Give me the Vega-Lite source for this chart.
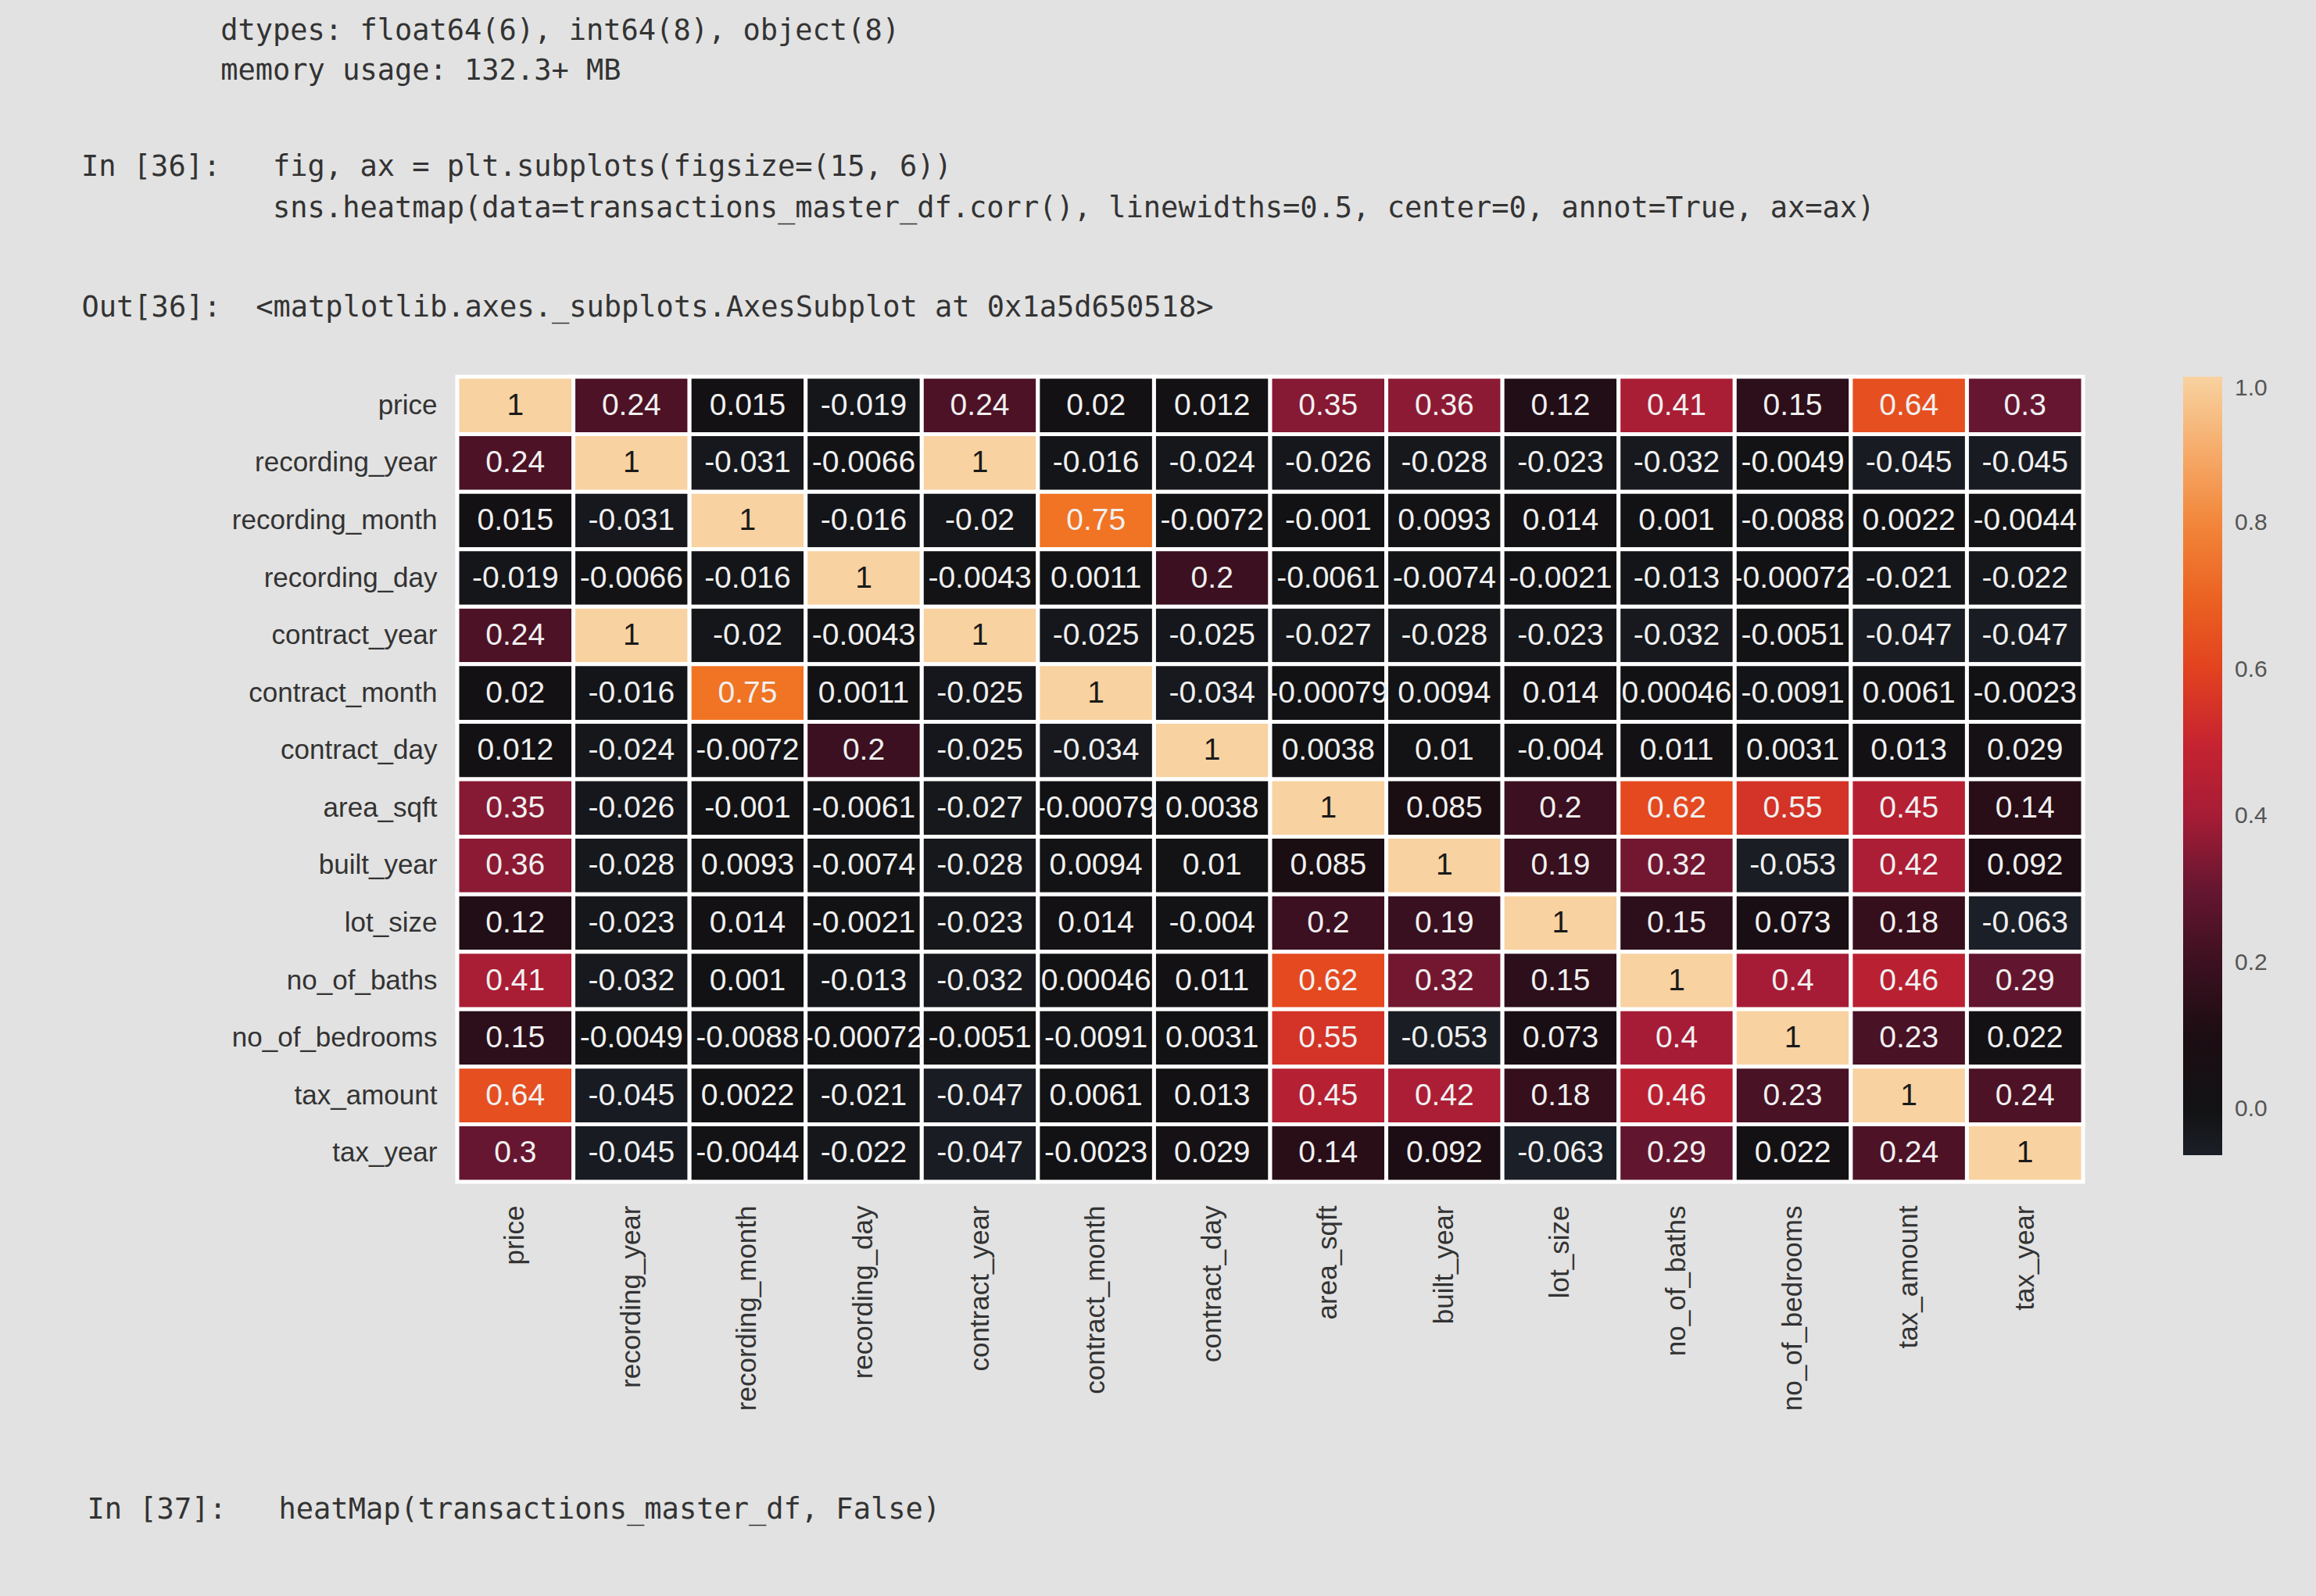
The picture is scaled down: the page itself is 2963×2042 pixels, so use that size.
{
  "$schema": "https://vega.github.io/schema/vega-lite/v6.json",
  "width": 2080,
  "height": 1030,
  "autosize": {"type": "none"},
  "padding": {"left": 585, "top": 482, "right": 298, "bottom": 530},
  "background": "#e2e2e2",
  "title": {
    "text": ["\u200b\u00a0\u00a0\u00a0\u00a0\u00a0\u00a0\u00a0\u00a0dtypes: float64(6), int64(8), object(8)", "\u200b\u00a0\u00a0\u00a0\u00a0\u00a0\u00a0\u00a0\u00a0memory usage: 132.3+ MB"],
    "subtitle": ["In [36]:\u00a0\u00a0\u00a0fig, ax = plt.subplots(figsize=(15, 6))", "\u200b\u00a0\u00a0\u00a0\u00a0\u00a0\u00a0\u00a0\u00a0\u00a0\u00a0\u00a0sns.heatmap(data=transactions_master_df.corr(), linewidths=0.5, center=0, annot=True, ax=ax)"],
    "anchor": "start",
    "frame": "group",
    "dx": -481,
    "offset": 88,
    "font": "DejaVu Sans Mono",
    "fontSize": 37,
    "fontWeight": "normal",
    "color": "#333333",
    "lineHeight": 51,
    "subtitleFont": "DejaVu Sans Mono",
    "subtitleFontSize": 37,
    "subtitleColor": "#333333",
    "subtitleLineHeight": 53,
    "subtitlePadding": 86
  },
  "data": {
    "values": [
      {"r": "price", "c": "price", "v": 1},
      {"r": "price", "c": "recording_year", "v": 0.24},
      {"r": "price", "c": "recording_month", "v": 0.015},
      {"r": "price", "c": "recording_day", "v": -0.019},
      {"r": "price", "c": "contract_year", "v": 0.24},
      {"r": "price", "c": "contract_month", "v": 0.02},
      {"r": "price", "c": "contract_day", "v": 0.012},
      {"r": "price", "c": "area_sqft", "v": 0.35},
      {"r": "price", "c": "built_year", "v": 0.36},
      {"r": "price", "c": "lot_size", "v": 0.12},
      {"r": "price", "c": "no_of_baths", "v": 0.41},
      {"r": "price", "c": "no_of_bedrooms", "v": 0.15},
      {"r": "price", "c": "tax_amount", "v": 0.64},
      {"r": "price", "c": "tax_year", "v": 0.3},

      {"r": "recording_year", "c": "price", "v": 0.24},
      {"r": "recording_year", "c": "recording_year", "v": 1},
      {"r": "recording_year", "c": "recording_month", "v": -0.031},
      {"r": "recording_year", "c": "recording_day", "v": -0.0066},
      {"r": "recording_year", "c": "contract_year", "v": 1},
      {"r": "recording_year", "c": "contract_month", "v": -0.016},
      {"r": "recording_year", "c": "contract_day", "v": -0.024},
      {"r": "recording_year", "c": "area_sqft", "v": -0.026},
      {"r": "recording_year", "c": "built_year", "v": -0.028},
      {"r": "recording_year", "c": "lot_size", "v": -0.023},
      {"r": "recording_year", "c": "no_of_baths", "v": -0.032},
      {"r": "recording_year", "c": "no_of_bedrooms", "v": -0.0049},
      {"r": "recording_year", "c": "tax_amount", "v": -0.045},
      {"r": "recording_year", "c": "tax_year", "v": -0.045},

      {"r": "recording_month", "c": "price", "v": 0.015},
      {"r": "recording_month", "c": "recording_year", "v": -0.031},
      {"r": "recording_month", "c": "recording_month", "v": 1},
      {"r": "recording_month", "c": "recording_day", "v": -0.016},
      {"r": "recording_month", "c": "contract_year", "v": -0.02},
      {"r": "recording_month", "c": "contract_month", "v": 0.75},
      {"r": "recording_month", "c": "contract_day", "v": -0.0072},
      {"r": "recording_month", "c": "area_sqft", "v": -0.001},
      {"r": "recording_month", "c": "built_year", "v": 0.0093},
      {"r": "recording_month", "c": "lot_size", "v": 0.014},
      {"r": "recording_month", "c": "no_of_baths", "v": 0.001},
      {"r": "recording_month", "c": "no_of_bedrooms", "v": -0.0088},
      {"r": "recording_month", "c": "tax_amount", "v": 0.0022},
      {"r": "recording_month", "c": "tax_year", "v": -0.0044},

      {"r": "recording_day", "c": "price", "v": -0.019},
      {"r": "recording_day", "c": "recording_year", "v": -0.0066},
      {"r": "recording_day", "c": "recording_month", "v": -0.016},
      {"r": "recording_day", "c": "recording_day", "v": 1},
      {"r": "recording_day", "c": "contract_year", "v": -0.0043},
      {"r": "recording_day", "c": "contract_month", "v": 0.0011},
      {"r": "recording_day", "c": "contract_day", "v": 0.2},
      {"r": "recording_day", "c": "area_sqft", "v": -0.0061},
      {"r": "recording_day", "c": "built_year", "v": -0.0074},
      {"r": "recording_day", "c": "lot_size", "v": -0.0021},
      {"r": "recording_day", "c": "no_of_baths", "v": -0.013},
      {"r": "recording_day", "c": "no_of_bedrooms", "v": -0.00072},
      {"r": "recording_day", "c": "tax_amount", "v": -0.021},
      {"r": "recording_day", "c": "tax_year", "v": -0.022},

      {"r": "contract_year", "c": "price", "v": 0.24},
      {"r": "contract_year", "c": "recording_year", "v": 1},
      {"r": "contract_year", "c": "recording_month", "v": -0.02},
      {"r": "contract_year", "c": "recording_day", "v": -0.0043},
      {"r": "contract_year", "c": "contract_year", "v": 1},
      {"r": "contract_year", "c": "contract_month", "v": -0.025},
      {"r": "contract_year", "c": "contract_day", "v": -0.025},
      {"r": "contract_year", "c": "area_sqft", "v": -0.027},
      {"r": "contract_year", "c": "built_year", "v": -0.028},
      {"r": "contract_year", "c": "lot_size", "v": -0.023},
      {"r": "contract_year", "c": "no_of_baths", "v": -0.032},
      {"r": "contract_year", "c": "no_of_bedrooms", "v": -0.0051},
      {"r": "contract_year", "c": "tax_amount", "v": -0.047},
      {"r": "contract_year", "c": "tax_year", "v": -0.047},

      {"r": "contract_month", "c": "price", "v": 0.02},
      {"r": "contract_month", "c": "recording_year", "v": -0.016},
      {"r": "contract_month", "c": "recording_month", "v": 0.75},
      {"r": "contract_month", "c": "recording_day", "v": 0.0011},
      {"r": "contract_month", "c": "contract_year", "v": -0.025},
      {"r": "contract_month", "c": "contract_month", "v": 1},
      {"r": "contract_month", "c": "contract_day", "v": -0.034},
      {"r": "contract_month", "c": "area_sqft", "v": -0.00079},
      {"r": "contract_month", "c": "built_year", "v": 0.0094},
      {"r": "contract_month", "c": "lot_size", "v": 0.014},
      {"r": "contract_month", "c": "no_of_baths", "v": 0.00046},
      {"r": "contract_month", "c": "no_of_bedrooms", "v": -0.0091},
      {"r": "contract_month", "c": "tax_amount", "v": 0.0061},
      {"r": "contract_month", "c": "tax_year", "v": -0.0023},

      {"r": "contract_day", "c": "price", "v": 0.012},
      {"r": "contract_day", "c": "recording_year", "v": -0.024},
      {"r": "contract_day", "c": "recording_month", "v": -0.0072},
      {"r": "contract_day", "c": "recording_day", "v": 0.2},
      {"r": "contract_day", "c": "contract_year", "v": -0.025},
      {"r": "contract_day", "c": "contract_month", "v": -0.034},
      {"r": "contract_day", "c": "contract_day", "v": 1},
      {"r": "contract_day", "c": "area_sqft", "v": 0.0038},
      {"r": "contract_day", "c": "built_year", "v": 0.01},
      {"r": "contract_day", "c": "lot_size", "v": -0.004},
      {"r": "contract_day", "c": "no_of_baths", "v": 0.011},
      {"r": "contract_day", "c": "no_of_bedrooms", "v": 0.0031},
      {"r": "contract_day", "c": "tax_amount", "v": 0.013},
      {"r": "contract_day", "c": "tax_year", "v": 0.029},

      {"r": "area_sqft", "c": "price", "v": 0.35},
      {"r": "area_sqft", "c": "recording_year", "v": -0.026},
      {"r": "area_sqft", "c": "recording_month", "v": -0.001},
      {"r": "area_sqft", "c": "recording_day", "v": -0.0061},
      {"r": "area_sqft", "c": "contract_year", "v": -0.027},
      {"r": "area_sqft", "c": "contract_month", "v": -0.00079},
      {"r": "area_sqft", "c": "contract_day", "v": 0.0038},
      {"r": "area_sqft", "c": "area_sqft", "v": 1},
      {"r": "area_sqft", "c": "built_year", "v": 0.085},
      {"r": "area_sqft", "c": "lot_size", "v": 0.2},
      {"r": "area_sqft", "c": "no_of_baths", "v": 0.62},
      {"r": "area_sqft", "c": "no_of_bedrooms", "v": 0.55},
      {"r": "area_sqft", "c": "tax_amount", "v": 0.45},
      {"r": "area_sqft", "c": "tax_year", "v": 0.14},

      {"r": "built_year", "c": "price", "v": 0.36},
      {"r": "built_year", "c": "recording_year", "v": -0.028},
      {"r": "built_year", "c": "recording_month", "v": 0.0093},
      {"r": "built_year", "c": "recording_day", "v": -0.0074},
      {"r": "built_year", "c": "contract_year", "v": -0.028},
      {"r": "built_year", "c": "contract_month", "v": 0.0094},
      {"r": "built_year", "c": "contract_day", "v": 0.01},
      {"r": "built_year", "c": "area_sqft", "v": 0.085},
      {"r": "built_year", "c": "built_year", "v": 1},
      {"r": "built_year", "c": "lot_size", "v": 0.19},
      {"r": "built_year", "c": "no_of_baths", "v": 0.32},
      {"r": "built_year", "c": "no_of_bedrooms", "v": -0.053},
      {"r": "built_year", "c": "tax_amount", "v": 0.42},
      {"r": "built_year", "c": "tax_year", "v": 0.092},

      {"r": "lot_size", "c": "price", "v": 0.12},
      {"r": "lot_size", "c": "recording_year", "v": -0.023},
      {"r": "lot_size", "c": "recording_month", "v": 0.014},
      {"r": "lot_size", "c": "recording_day", "v": -0.0021},
      {"r": "lot_size", "c": "contract_year", "v": -0.023},
      {"r": "lot_size", "c": "contract_month", "v": 0.014},
      {"r": "lot_size", "c": "contract_day", "v": -0.004},
      {"r": "lot_size", "c": "area_sqft", "v": 0.2},
      {"r": "lot_size", "c": "built_year", "v": 0.19},
      {"r": "lot_size", "c": "lot_size", "v": 1},
      {"r": "lot_size", "c": "no_of_baths", "v": 0.15},
      {"r": "lot_size", "c": "no_of_bedrooms", "v": 0.073},
      {"r": "lot_size", "c": "tax_amount", "v": 0.18},
      {"r": "lot_size", "c": "tax_year", "v": -0.063},

      {"r": "no_of_baths", "c": "price", "v": 0.41},
      {"r": "no_of_baths", "c": "recording_year", "v": -0.032},
      {"r": "no_of_baths", "c": "recording_month", "v": 0.001},
      {"r": "no_of_baths", "c": "recording_day", "v": -0.013},
      {"r": "no_of_baths", "c": "contract_year", "v": -0.032},
      {"r": "no_of_baths", "c": "contract_month", "v": 0.00046},
      {"r": "no_of_baths", "c": "contract_day", "v": 0.011},
      {"r": "no_of_baths", "c": "area_sqft", "v": 0.62},
      {"r": "no_of_baths", "c": "built_year", "v": 0.32},
      {"r": "no_of_baths", "c": "lot_size", "v": 0.15},
      {"r": "no_of_baths", "c": "no_of_baths", "v": 1},
      {"r": "no_of_baths", "c": "no_of_bedrooms", "v": 0.4},
      {"r": "no_of_baths", "c": "tax_amount", "v": 0.46},
      {"r": "no_of_baths", "c": "tax_year", "v": 0.29},

      {"r": "no_of_bedrooms", "c": "price", "v": 0.15},
      {"r": "no_of_bedrooms", "c": "recording_year", "v": -0.0049},
      {"r": "no_of_bedrooms", "c": "recording_month", "v": -0.0088},
      {"r": "no_of_bedrooms", "c": "recording_day", "v": -0.00072},
      {"r": "no_of_bedrooms", "c": "contract_year", "v": -0.0051},
      {"r": "no_of_bedrooms", "c": "contract_month", "v": -0.0091},
      {"r": "no_of_bedrooms", "c": "contract_day", "v": 0.0031},
      {"r": "no_of_bedrooms", "c": "area_sqft", "v": 0.55},
      {"r": "no_of_bedrooms", "c": "built_year", "v": -0.053},
      {"r": "no_of_bedrooms", "c": "lot_size", "v": 0.073},
      {"r": "no_of_bedrooms", "c": "no_of_baths", "v": 0.4},
      {"r": "no_of_bedrooms", "c": "no_of_bedrooms", "v": 1},
      {"r": "no_of_bedrooms", "c": "tax_amount", "v": 0.23},
      {"r": "no_of_bedrooms", "c": "tax_year", "v": 0.022},

      {"r": "tax_amount", "c": "price", "v": 0.64},
      {"r": "tax_amount", "c": "recording_year", "v": -0.045},
      {"r": "tax_amount", "c": "recording_month", "v": 0.0022},
      {"r": "tax_amount", "c": "recording_day", "v": -0.021},
      {"r": "tax_amount", "c": "contract_year", "v": -0.047},
      {"r": "tax_amount", "c": "contract_month", "v": 0.0061},
      {"r": "tax_amount", "c": "contract_day", "v": 0.013},
      {"r": "tax_amount", "c": "area_sqft", "v": 0.45},
      {"r": "tax_amount", "c": "built_year", "v": 0.42},
      {"r": "tax_amount", "c": "lot_size", "v": 0.18},
      {"r": "tax_amount", "c": "no_of_baths", "v": 0.46},
      {"r": "tax_amount", "c": "no_of_bedrooms", "v": 0.23},
      {"r": "tax_amount", "c": "tax_amount", "v": 1},
      {"r": "tax_amount", "c": "tax_year", "v": 0.24},

      {"r": "tax_year", "c": "price", "v": 0.3},
      {"r": "tax_year", "c": "recording_year", "v": -0.045},
      {"r": "tax_year", "c": "recording_month", "v": -0.0044},
      {"r": "tax_year", "c": "recording_day", "v": -0.022},
      {"r": "tax_year", "c": "contract_year", "v": -0.047},
      {"r": "tax_year", "c": "contract_month", "v": -0.0023},
      {"r": "tax_year", "c": "contract_day", "v": 0.029},
      {"r": "tax_year", "c": "area_sqft", "v": 0.14},
      {"r": "tax_year", "c": "built_year", "v": 0.092},
      {"r": "tax_year", "c": "lot_size", "v": -0.063},
      {"r": "tax_year", "c": "no_of_baths", "v": 0.29},
      {"r": "tax_year", "c": "no_of_bedrooms", "v": 0.022},
      {"r": "tax_year", "c": "tax_amount", "v": 0.24},
      {"r": "tax_year", "c": "tax_year", "v": 1}
    ]
  },
  "encoding": {
    "x": {
      "field": "c",
      "type": "nominal",
      "sort": ["price", "recording_year", "recording_month", "recording_day", "contract_year", "contract_month", "contract_day", "area_sqft", "built_year", "lot_size", "no_of_baths", "no_of_bedrooms", "tax_amount", "tax_year"],
      "scale": {"paddingInner": 0, "paddingOuter": 0},
      "axis": {
        "orient": "bottom",
        "labelAngle": -90,
        "labelFont": "Liberation Sans",
        "labelFontSize": 35,
        "labelColor": "#333333",
        "labelPadding": 30,
        "labelLimit": 0,
        "ticks": false,
        "domain": false,
        "title": "In [37]:\u00a0\u00a0\u00a0heatMap(transactions_master_df, False)",
        "titleFont": "DejaVu Sans Mono",
        "titleFontSize": 37,
        "titleFontWeight": "normal",
        "titleColor": "#333333",
        "titleAlign": "left",
        "titleAnchor": "start",
        "titleBaseline": "middle",
        "titleX": -474,
        "titleY": 419
      }
    },
    "y": {
      "field": "r",
      "type": "nominal",
      "sort": ["price", "recording_year", "recording_month", "recording_day", "contract_year", "contract_month", "contract_day", "area_sqft", "built_year", "lot_size", "no_of_baths", "no_of_bedrooms", "tax_amount", "tax_year"],
      "scale": {"paddingInner": 0, "paddingOuter": 0},
      "axis": {
        "labelFont": "Liberation Sans",
        "labelFontSize": 35,
        "labelColor": "#333333",
        "labelPadding": 26,
        "labelLimit": 0,
        "ticks": false,
        "domain": false,
        "title": "Out[36]:\u00a0\u00a0<matplotlib.axes._subplots.AxesSubplot at 0x1a5d650518>",
        "titleAngle": 0,
        "titleFont": "DejaVu Sans Mono",
        "titleFontSize": 37,
        "titleFontWeight": "normal",
        "titleColor": "#333333",
        "titleAlign": "left",
        "titleAnchor": "start",
        "titleBaseline": "middle",
        "titleX": -481,
        "titleY": -89
      }
    }
  },
  "layer": [
    {
      "mark": {"type": "rect", "stroke": "#ffffff", "strokeWidth": 5},
      "encoding": {
        "color": {
          "field": "v",
          "type": "quantitative",
          "scale": {
            "domain": [-0.063, 0, 0.1, 0.2, 0.3, 0.4, 0.5, 0.6, 0.75, 0.88, 1],
            "range": ["#1b1f27", "#121214", "#1c0d13", "#3c1020", "#661630", "#a61c36", "#c62430", "#e2421f", "#f07424", "#f5a460", "#f8d2a0"],
            "interpolate": "rgb"
          },
          "legend": {
            "title": null,
            "orient": "right",
            "offset": 128,
            "direction": "vertical",
            "gradientLength": 996,
            "gradientThickness": 50,
            "gradientStrokeWidth": 0,
            "values": [0, 0.2, 0.4, 0.6, 0.8, 1.0],
            "format": ".1f",
            "labelFont": "Liberation Sans",
            "labelFontSize": 30,
            "labelColor": "#555555",
            "labelOffset": 16
          }
        }
      }
    },
    {
      "mark": {"type": "text", "font": "Liberation Sans", "fontSize": 39, "baseline": "middle", "align": "center"},
      "encoding": {
        "text": {"field": "v", "type": "nominal"},
        "color": {
          "condition": {"test": "datum.v > 0.9", "value": "#1a1a1a"},
          "value": "#f0f0f0"
        }
      }
    }
  ]
}
